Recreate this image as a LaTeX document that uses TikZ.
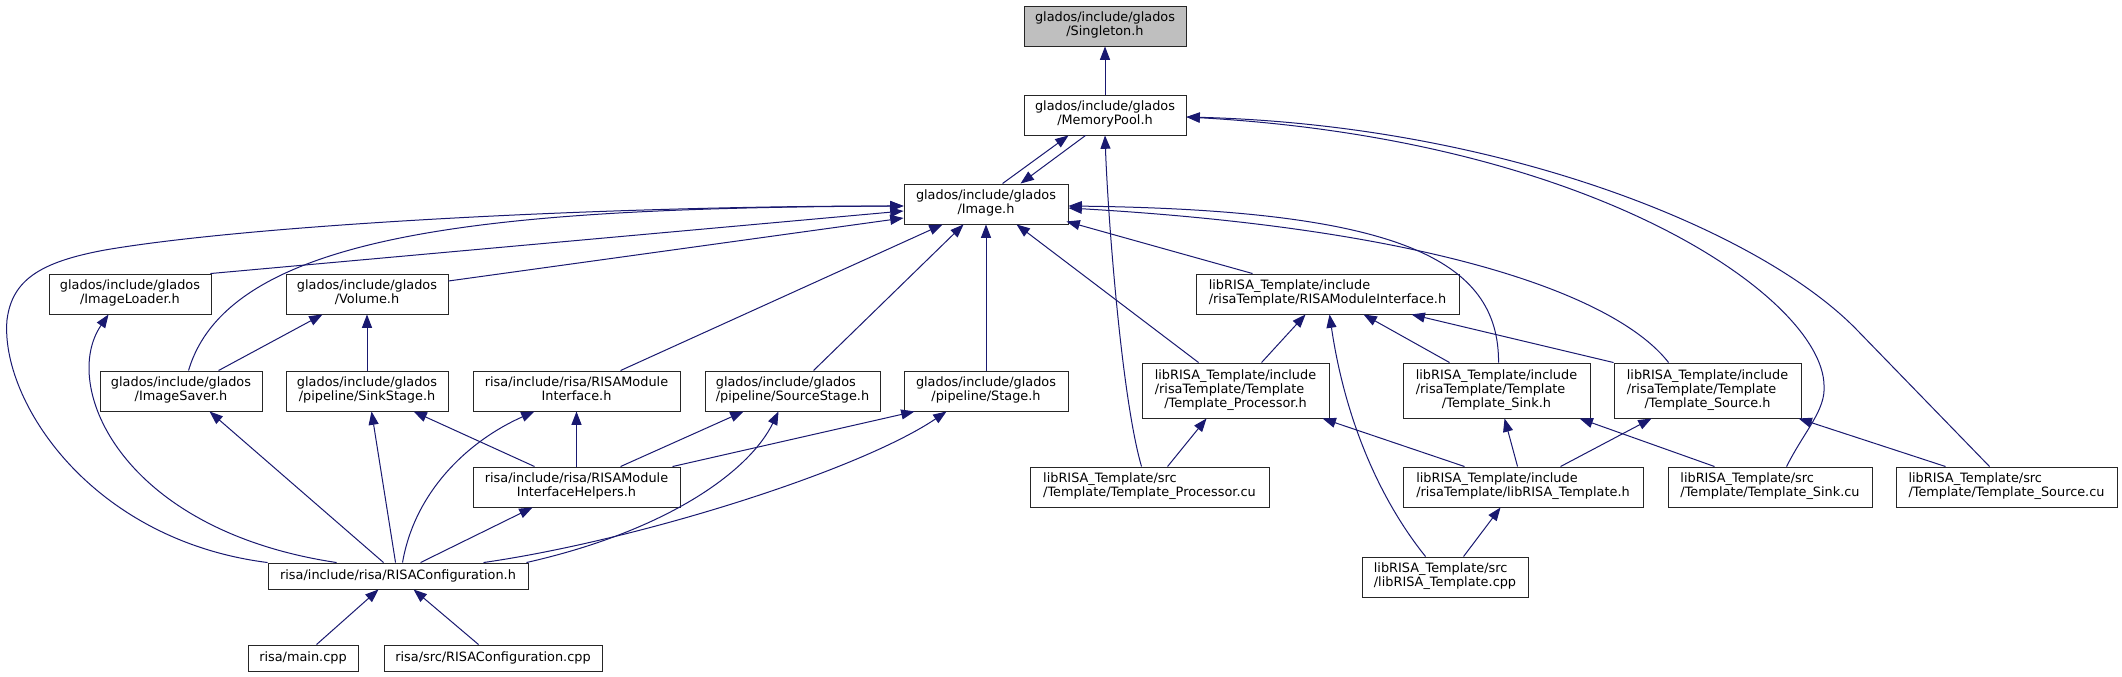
\documentclass[tikz,border=0pt]{standalone}
\usepackage{fontspec}
\setmainfont{DejaVu Sans}
\usetikzlibrary{arrows.meta,calc}
\definecolor{mblue}{HTML}{191970}
\definecolor{rootgray}{HTML}{BFBFBF}
\definecolor{bordergray}{HTML}{262626}
\newcommand{\twol}[2]{\begin{tabular}{@{}l@{}}#1\\\multicolumn{1}{@{}c@{}}{#2}\end{tabular}}
\newcommand{\threel}[3]{\begin{tabular}{@{}l@{}}#1\\#2\\\multicolumn{1}{@{}c@{}}{#3}\end{tabular}}
\begin{document}
\begin{tikzpicture}[x=0.75pt,y=-0.75pt,
  nb/.style={draw=bordergray, line width=0.7pt, fill=white, inner sep=0pt, font=\fontsize{9.65}{10.4}\selectfont},
  bw/.style={minimum width=#1*0.75pt},
  bh/.style={minimum height=#1*0.75pt},
  edge/.style={draw=mblue, line width=0.75pt, -{Triangle[length=10pt,width=7.5pt]}}]
\fill[white] (0,0) rectangle (2122,677);
\useasboundingbox (0,0) rectangle (2122,677);
% nodes
\node[nb,bw=162,bh=40,fill=rootgray] (sing) at (1105,26) {\twol{glados/include/glados}{/Singleton.h}};
\node[nb,bw=162,bh=40] (mem) at (1105,115) {\twol{glados/include/glados}{/MemoryPool.h}};
\node[nb,bw=164,bh=40] (img) at (986,204) {\twol{glados/include/glados}{/Image.h}};
\node[nb,bw=162,bh=40] (loader) at (130,294) {\twol{glados/include/glados}{/ImageLoader.h}};
\node[nb,bw=162,bh=40] (volume) at (367,294) {\twol{glados/include/glados}{/Volume.h}};
\node[nb,bw=263,bh=40] (lrmi) at (1327.5,294) {\twol{libRISA\_Template/include}{/risaTemplate/RISAModuleInterface.h}};
\node[nb,bw=162,bh=40] (saver) at (181,391) {\twol{glados/include/glados}{/ImageSaver.h}};
\node[nb,bw=162,bh=40] (sink) at (367,391) {\twol{glados/include/glados}{/pipeline/SinkStage.h}};
\node[nb,bw=207,bh=40] (rmi) at (576.5,391) {\twol{risa/include/risa/RISAModule}{Interface.h}};
\node[nb,bw=175,bh=40] (srcst) at (792.5,391) {\twol{glados/include/glados}{/pipeline/SourceStage.h}};
\node[nb,bw=164,bh=40] (stage) at (986,391) {\twol{glados/include/glados}{/pipeline/Stage.h}};
\node[nb,bw=187,bh=55] (tproc) at (1235.5,390.5) {\threel{libRISA\_Template/include}{/risaTemplate/Template}{/Template\_Processor.h}};
\node[nb,bw=187,bh=55] (tsink) at (1496.5,390.5) {\threel{libRISA\_Template/include}{/risaTemplate/Template}{/Template\_Sink.h}};
\node[nb,bw=187,bh=55] (tsrc) at (1707.5,390.5) {\threel{libRISA\_Template/include}{/risaTemplate/Template}{/Template\_Source.h}};
\node[nb,bw=207,bh=40] (helpers) at (576.5,487) {\twol{risa/include/risa/RISAModule}{InterfaceHelpers.h}};
\node[nb,bw=239,bh=40] (tproccu) at (1149.5,487) {\twol{libRISA\_Template/src}{/Template/Template\_Processor.cu}};
\node[nb,bw=240,bh=40] (libh) at (1523,487) {\twol{libRISA\_Template/include}{/risaTemplate/libRISA\_Template.h}};
\node[nb,bw=204,bh=40] (tsinkcu) at (1770,487) {\twol{libRISA\_Template/src}{/Template/Template\_Sink.cu}};
\node[nb,bw=221,bh=40] (tsrccu) at (2006.5,487) {\twol{libRISA\_Template/src}{/Template/Template\_Source.cu}};
\node[nb,bw=260,bh=26] (config) at (398,576) {risa/include/risa/RISAConfiguration.h};
\node[nb,bw=166,bh=40] (libcpp) at (1445,577) {\twol{libRISA\_Template/src}{/libRISA\_Template.cpp}};
\node[nb,bw=110,bh=26] (main) at (303,658) {risa/main.cpp};
\node[nb,bw=218,bh=26] (configcpp) at (493,658) {risa/src/RISAConfiguration.cpp};
% edges
\draw[edge] (mem.north) -- (sing.south);
\draw[edge] ($(img.north west)+(99,0)$) -- ($(mem.south west)+(45,0)$);
\draw[edge] ($(mem.south west)+(62,0)$) -- ($(img.north west)+(117,0)$);
\draw[edge] ($(tproccu.north west)+(112,0)$) .. controls (1122,400) and (1108,220) .. (mem.south);
\draw[edge] ($(tsinkcu.north west)+(119,0)$) .. controls (1805,430) and (1826,410) .. (1824,385) .. controls (1822,300) and (1600,140) .. ($(mem.east)+(0,2)$);
\draw[edge] ($(tsrccu.north west)+(94,0)$) -- (1857,330) .. controls (1760,230) and (1500,125) .. ($(mem.east)+(0,2)$);
\draw[edge] (config.north west) .. controls (90,540) and (0,400) .. (7,320) .. controls (12,280) and (40,262) .. (105,250) .. controls (250,225) and (600,206) .. ($(img.west)+(0,2)$);
\draw[edge] ($(saver.north west)+(89,0)$) .. controls (230,230) and (500,208) .. ($(img.west)+(0,2)$);
\draw[edge] ($(loader.north east)+(-1,0)$) -- ($(img.west)+(0,7)$);
\draw[edge] ($(volume.east)+(0,-13)$) -- ($(img.west)+(0,14)$);
\draw[edge] ($(rmi.north west)+(148,0)$) -- ($(img.south west)+(39,0)$);
\draw[edge] ($(srcst.north west)+(109,0)$) -- ($(img.south west)+(60,0)$);
\draw[edge] (stage.north) -- (img.south);
\draw[edge] ($(tproc.north west)+(57,0)$) -- ($(img.south west)+(113,0)$);
\draw[edge] ($(lrmi.north west)+(57,0)$) -- ($(img.south east)+(-2,-3)$);
\draw[edge] ($(tsink.north west)+(96,0)$) .. controls (1499,260) and (1400,210) .. ($(img.east)+(0,2)$);
\draw[edge] ($(tsrc.north west)+(55,0)$) .. controls (1620,300) and (1450,230) .. ($(img.east)+(0,4)$);
\draw[edge] ($(saver.north west)+(119,0)$) -- ($(volume.south west)+(37,0)$);
\draw[edge] (sink.north) -- (volume.south);
\draw[edge] ($(config.north west)+(69,0)$) .. controls (120,530) and (60,385) .. ($(loader.south west)+(60,0)$);
\draw[edge] ($(config.north west)+(116,0)$) -- ($(saver.south west)+(110,0)$);
\draw[edge] ($(config.north west)+(128,0)$) -- ($(sink.south west)+(86,0)$);
\draw[edge] ($(helpers.north west)+(62,0)$) -- ($(sink.south west)+(128,0)$);
\draw[edge] ($(config.north west)+(135,0)$) .. controls (415,490) and (470,440) .. ($(rmi.south west)+(62,0)$);
\draw[edge] (helpers.north) -- (rmi.south);
\draw[edge] ($(helpers.north west)+(148,0)$) -- ($(srcst.south west)+(39,0)$);
\draw[edge] ($(config.north east)+(-2,0)$) .. controls (670,530) and (750,470) .. ($(srcst.south west)+(74,0)$);
\draw[edge] ($(helpers.north west)+(200,0)$) -- ($(stage.south west)+(11,0)$);
\draw[edge] ($(config.north west)+(216,0)$) .. controls (640,540) and (860,470) .. ($(stage.south west)+(43,0)$);
\draw[edge] ($(config.north west)+(153,0)$) -- ($(helpers.south west)+(60,0)$);
\draw[edge] ($(main.north west)+(69,0)$) -- ($(config.south west)+(111,0)$);
\draw[edge] ($(configcpp.north west)+(95,0)$) -- ($(config.south west)+(146,0)$);
\draw[edge] ($(tproc.north west)+(120,0)$) -- ($(lrmi.south west)+(110,0)$);
\draw[edge] ($(libcpp.north west)+(64,0)$) .. controls (1380,500) and (1345,420) .. ($(lrmi.south west)+(134,0)$);
\draw[edge] ($(tsink.north west)+(47,0)$) -- ($(lrmi.south west)+(168,0)$);
\draw[edge] (tsrc.north west) -- ($(lrmi.south west)+(216,0)$);
\draw[edge] ($(tproccu.north west)+(138,0)$) -- ($(tproc.south west)+(65,0)$);
\draw[edge] ($(libh.north west)+(62,0)$) -- ($(tproc.south west)+(181,0)$);
\draw[edge] ($(libh.north west)+(115,0)$) -- ($(tsink.south west)+(102,0)$);
\draw[edge] ($(tsinkcu.north west)+(47,0)$) -- ($(tsink.south west)+(177,0)$);
\draw[edge] ($(libh.north west)+(158,0)$) -- ($(tsrc.south west)+(38,0)$);
\draw[edge] ($(tsrccu.north west)+(50,0)$) -- ($(tsrc.south west)+(185,0)$);
\draw[edge] ($(libcpp.north west)+(102,0)$) -- ($(libh.south west)+(98,0)$);
\end{tikzpicture}
\end{document}
